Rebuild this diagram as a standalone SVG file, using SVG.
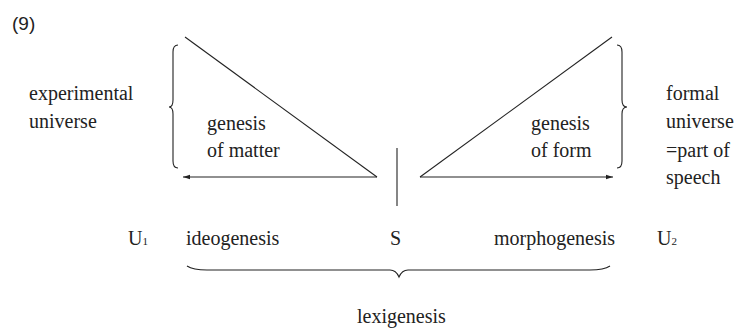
<svg xmlns="http://www.w3.org/2000/svg" width="736" height="329" viewBox="0 0 736 329">
<style>
text{fill:#222}
.t{font-family:'Liberation Serif','DejaVu Serif',serif;font-size:20px}
.s{font-family:'Liberation Sans',Arial,sans-serif;font-size:19px}
.sub{font-size:11px}
.ln{stroke:#222;stroke-width:1.1;fill:none}
</style>
<defs>
<marker id="ah" markerWidth="8" markerHeight="6" refX="7" refY="3" orient="auto" markerUnits="userSpaceOnUse">
<path d="M0,0.8 L7,3 L0,5.2 Z" fill="#222"/>
</marker>
</defs>
<rect width="736" height="329" fill="#fff"/>
<text class="s" x="12" y="30">(9)</text>
<g id="connectors">
<path class="ln" d="M185,37 L377,177"/>
<path class="ln" d="M377,177 L183,177" marker-end="url(#ah)"/>
<path class="ln" d="M612,37 L420,177"/>
<path class="ln" d="M420,177 L613,177" marker-end="url(#ah)"/>
<path class="ln" d="M397,148 L397,206"/>
<path class="ln" d="M178,45 Q173,45 173,52 L173,100 Q173,107 169,107 Q173,107 173,114 L173,161 Q173,168 178,168"/>
<path class="ln" d="M617,45 Q622,45 622,52 L622,100 Q622,107 627,107 Q622,107 622,114 L622,161 Q622,168 617,168"/>
<path class="ln" d="M187,266 Q193,270 207,270 L390,270 Q396,270 399,277 Q402,270 408,270 L590,270 Q604,270 610,266"/>
</g>
<g id="experimental-universe" font-family="Liberation Serif, serif"><text class="t" x="29" y="100">experimental</text><text class="t" x="29" y="128">universe</text></g>
<g id="genesis-of-matter"><text class="t" x="207" y="130">genesis</text><text class="t" x="207" y="157">of matter</text></g>
<g id="genesis-of-form"><text class="t" x="531" y="130">genesis</text><text class="t" x="531" y="157">of form</text></g>
<g id="formal-universe"><text class="t" x="666" y="100">formal</text><text class="t" x="666" y="128">universe</text><text class="t" x="666" y="157">=part of</text><text class="t" x="666" y="184">speech</text></g>
<g id="U1"><text class="t" x="128" y="245">U<tspan class="sub">1</tspan></text></g>
<g id="ideogenesis"><text class="t" x="186" y="245">ideogenesis</text></g>
<g id="S"><text class="t" x="390" y="245">S</text></g>
<g id="morphogenesis"><text class="t" x="494" y="245">morphogenesis</text></g>
<g id="U2"><text class="t" x="657" y="245">U<tspan class="sub">2</tspan></text></g>
<g id="lexigenesis"><text class="t" x="357" y="323">lexigenesis</text></g>
</svg>
